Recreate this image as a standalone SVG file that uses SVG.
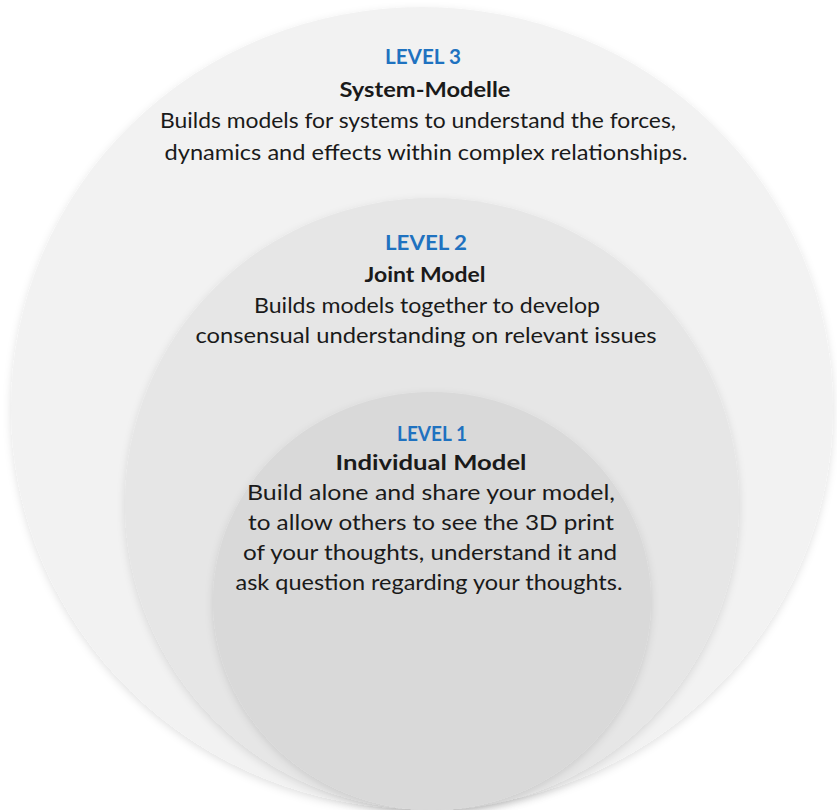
<svg xmlns="http://www.w3.org/2000/svg" width="837" height="810" viewBox="0 0 837 810">
  <defs>
    <filter id="soft" x="-10%" y="-10%" width="120%" height="125%">
      <feDropShadow dx="0" dy="3" stdDeviation="4" flood-color="#000" flood-opacity="0.12"/>
    </filter>
  </defs>
  <style>
    text { font-family: Lato, "Open Sans", "Liberation Sans", sans-serif; font-size: 21px; fill: #1a1a1a; text-anchor: middle; }
    .lvl { font-weight: bold; fill: #1f72c0; }
    .ttl { font-weight: bold; }
    .c3 { fill: #f2f2f2; }
    .c2 { fill: #e6e6e6; }
    .c1 { fill: #d9d9d9; }
  </style>
  <rect width="837" height="810" fill="#ffffff"/>

  <g id="level3">
    <ellipse class="c3" cx="422" cy="408" rx="411" ry="401" filter="url(#soft)"/>
    <text class="lvl" x="423" y="64" textLength="76" lengthAdjust="spacingAndGlyphs">LEVEL 3</text>
    <text class="ttl" x="425" y="97" textLength="171" lengthAdjust="spacingAndGlyphs">System-Modelle</text>
    <text x="418" y="128" textLength="516" lengthAdjust="spacingAndGlyphs">Builds models for systems to understand the forces,</text>
    <text x="426" y="160" textLength="523" lengthAdjust="spacingAndGlyphs">dynamics and effects within complex relationships.</text>
  </g>

  <g id="level2">
    <ellipse class="c2" cx="432" cy="504" rx="307" ry="306" filter="url(#soft)"/>
    <text class="lvl" x="426" y="250" textLength="82" lengthAdjust="spacingAndGlyphs">LEVEL 2</text>
    <text class="ttl" x="425" y="282" textLength="121" lengthAdjust="spacingAndGlyphs">Joint Model</text>
    <text x="427" y="313" textLength="346" lengthAdjust="spacingAndGlyphs">Builds models together to develop</text>
    <text x="426" y="343" textLength="461" lengthAdjust="spacingAndGlyphs">consensual understanding on relevant issues</text>
  </g>

  <g id="level1">
    <ellipse class="c1" cx="432" cy="601" rx="219" ry="209" filter="url(#soft)"/>
    <text class="lvl" x="432" y="441" textLength="70" lengthAdjust="spacingAndGlyphs">LEVEL 1</text>
    <text class="ttl" x="431" y="470" textLength="191" lengthAdjust="spacingAndGlyphs">Individual Model</text>
    <text x="431" y="500" textLength="368" lengthAdjust="spacingAndGlyphs">Build alone and share your model,</text>
    <text x="431" y="530" textLength="366" lengthAdjust="spacingAndGlyphs">to allow others to see the 3D print</text>
    <text x="430" y="560" textLength="374" lengthAdjust="spacingAndGlyphs">of your thoughts, understand it and</text>
    <text x="429" y="590" textLength="387" lengthAdjust="spacingAndGlyphs">ask question regarding your thoughts.</text>
  </g>

  <g id="connectors"/>
</svg>
